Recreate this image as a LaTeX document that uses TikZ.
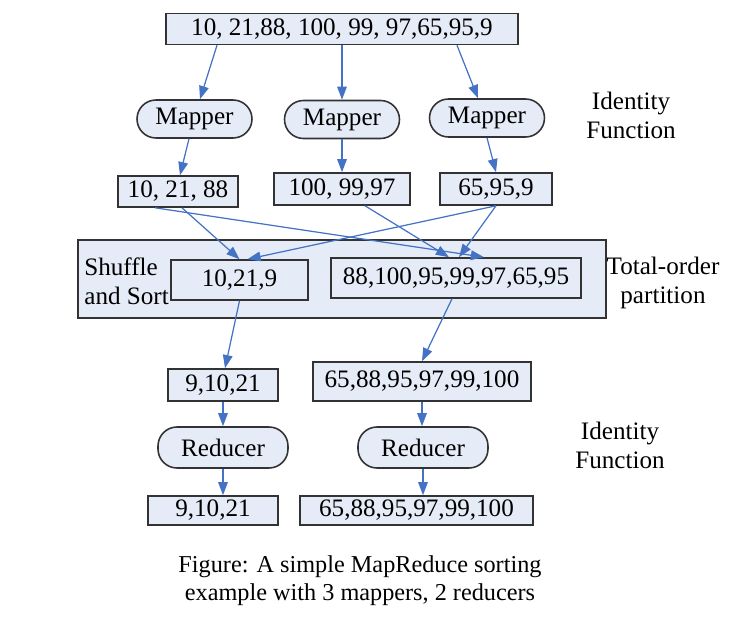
\documentclass[tikz,border=0pt]{standalone}
\usepackage{fontspec}
\setmainfont{Liberation Serif}
\usetikzlibrary{arrows.meta}
\definecolor{boxfill}{RGB}{230,236,247}
\definecolor{flowblue}{RGB}{68,114,196}

\begin{document}
\begin{tikzpicture}[scale=1.0, >={Triangle[length=7.5pt,width=5.5pt]},
  every node/.style={font=\fontsize{14.3}{16.5}\selectfont},
  databox/.style={draw=black!80, line width=0.9pt, fill=boxfill, inner sep=0pt},
  taskbox/.style={databox, rounded corners=0.38cm},
  flow/.style={->, flowblue, line width=0.7pt}]
  \useasboundingbox (0,0) rectangle (15,-12.5);
  \node[databox, minimum width=7.04cm, minimum height=0.62cm] (input) at (6.84,-0.58) {10, 21,88, 100, 99, 97,65,95,9};
  \node[taskbox, minimum width=2.30cm, minimum height=0.76cm] (map1) at (3.89,-2.38) {Mapper};
  \node[taskbox, minimum width=2.30cm, minimum height=0.76cm] (map2) at (6.84,-2.39) {Mapper};
  \node[taskbox, minimum width=2.30cm, minimum height=0.76cm] (map3) at (9.74,-2.36) {Mapper};
  \node[align=center] (idmap) at (12.62,-2.30) {Identity\\Function};
  \node[databox, minimum width=2.40cm, minimum height=0.62cm] (out1) at (3.56,-3.83) {10, 21, 88};
  \node[databox, minimum width=2.72cm, minimum height=0.64cm] (out2) at (6.84,-3.78) {100, 99,97};
  \node[databox, minimum width=2.24cm, minimum height=0.64cm] (out3) at (9.92,-3.78) {65,95,9};
  \node[databox, minimum width=10.56cm, minimum height=1.56cm] (shuffle) at (6.84,-5.58) {};
  \node[align=left, anchor=west, inner sep=0pt] (shufflelbl) at (1.68,-5.63) {Shuffle\\and Sort};
  \node[databox, minimum width=2.74cm, minimum height=0.80cm] (part1) at (4.79,-5.60) {10,21,9};
  \node[databox, minimum width=5.00cm, minimum height=0.80cm] (part2) at (9.12,-5.56) {88,100,95,99,97,65,95};
  \node[align=center] (partlbl) at (13.26,-5.66) {Total-order\\partition};
  \node[databox, minimum width=2.20cm, minimum height=0.64cm] (sort1) at (4.46,-7.70) {9,10,21};
  \node[databox, minimum width=4.36cm, minimum height=0.78cm] (sort2) at (8.44,-7.63) {65,88,95,97,99,100};
  \node[taskbox, minimum width=2.60cm, minimum height=0.82cm] (red1) at (4.46,-8.95) {Reducer};
  \node[taskbox, minimum width=2.60cm, minimum height=0.82cm] (red2) at (8.46,-8.95) {Reducer};
  \node[align=center] (idred) at (12.40,-8.90) {Identity\\Function};
  \node[databox, minimum width=2.60cm, minimum height=0.58cm] (final1) at (4.26,-10.21) {9,10,21};
  \node[databox, minimum width=4.66cm, minimum height=0.58cm] (final2) at (8.33,-10.21) {65,88,95,97,99,100};
  \node[align=center, font=\fontsize{13.8}{16}\selectfont] (caption) at (7.20,-11.62) {Figure: A simple MapReduce sorting\\example with 3 mappers, 2 reducers};
  \draw[flow] ([xshift=-2.5cm]input.south) -- ([xshift=0.11cm]map1.north);
  \draw[flow] (input.south) -- (map2.north);
  \draw[flow] ([xshift=2.3cm]input.south) -- ([xshift=-0.18cm]map3.north);
  \draw[flow] ([xshift=-0.11cm]map1.south) -- ([xshift=0.04cm]out1.north);
  \draw[flow] (map2.south) -- (out2.north);
  \draw[flow] (map3.south) -- (out3.north);
  \draw[flow] ([xshift=0.08cm]out1.south) -- (part1.north);
  \draw[flow] ([xshift=-0.46cm]out1.south) -- ([xshift=0.56cm]part2.north);
  \draw[flow] ([xshift=0.46cm]out2.south) -- ([xshift=-0.14cm]part2.north);
  \draw[flow] (out3.south) -- ([xshift=0.16cm]part1.north);
  \draw[flow] (out3.south) -- ([xshift=0.06cm]part2.north);
  \draw[flow] (part1.south) -- ([xshift=0.04cm]sort1.north);
  \draw[flow] ([xshift=-0.08cm]part2.south) -- (sort2.north);
  \draw[flow] (sort1.south) -- (red1.north);
  \draw[flow] (sort2.south) -- (sort2.south |- red2.north);
  \draw[flow] (red1.south) -- (red1.south |- final1.north);
  \draw[flow] (red2.south) -- (red2.south |- final2.north);
\end{tikzpicture}
\end{document}
